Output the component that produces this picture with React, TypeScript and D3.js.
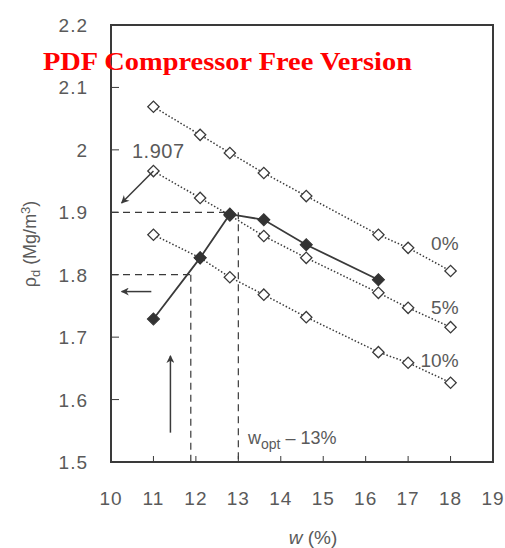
import React, { useRef, useEffect } from 'react';
import * as d3 from 'd3';

// water content (%) and dry density (Mg/m3)
const wHollow = [11, 12.1, 12.8, 13.6, 14.6, 16.3, 17, 18];
const rho0 = [2.069, 2.024, 1.995, 1.963, 1.926, 1.864, 1.843, 1.806];
const rho5 = [1.966, 1.923, 1.895, 1.862, 1.827, 1.771, 1.747, 1.716];
const rho10 = [1.864, 1.827, 1.796, 1.768, 1.732, 1.676, 1.659, 1.627];
const seriesLabels = ['0%', '5%', '10%'];

const wFilled = [11, 12.1, 12.8, 13.6, 14.6, 16.3];
const rhoFilled = [1.729, 1.827, 1.897, 1.888, 1.848, 1.792];

const xTicks = [10, 11, 12, 13, 14, 15, 16, 17, 18, 19];
const yTicks = [1.5, 1.6, 1.7, 1.8, 1.9, 2, 2.1, 2.2];

const wOpt = 13;
const rhoMax = 1.9;
const wLow = 11.88;
const rhoLow = 1.8;

const App: React.FC = () => {
  const svgRef = useRef<SVGSVGElement>(null);
  const width = 505;
  const height = 548;

  useEffect(() => {
    if (!svgRef.current) return;
    const root = d3.select(svgRef.current);
    root.selectAll('*').remove();

    const left = 111, right = 493, top = 25, bottom = 462;
    const x = d3.scaleLinear().domain([10, 19]).range([left, right]);
    const y = d3.scaleLinear().domain([1.5, 2.2]).range([bottom, top]);
    const font = '"Liberation Sans", Arial, sans-serif';
    const ink = '#3a3a3a';
    const labelInk = '#5a5a5a';

    const defs = root.append('defs');
    defs.append('marker')
      .attr('id', 'head')
      .attr('viewBox', '0 0 10 10')
      .attr('refX', 9).attr('refY', 5)
      .attr('markerWidth', 10).attr('markerHeight', 8)
      .attr('markerUnits', 'userSpaceOnUse')
      .attr('orient', 'auto')
      .append('path')
      .attr('d', 'M0,0 L10,5 L0,10 L3,5 Z')
      .attr('fill', ink);

    // frame
    root.append('rect')
      .attr('x', left).attr('y', top)
      .attr('width', right - left).attr('height', bottom - top)
      .attr('fill', 'none').attr('stroke', ink).attr('stroke-width', 2);

    // inward ticks
    root.selectAll('.xt').data(xTicks.slice(1, -1)).enter().append('line')
      .attr('x1', d => x(d)).attr('x2', d => x(d))
      .attr('y1', bottom).attr('y2', bottom - 6)
      .attr('stroke', ink).attr('stroke-width', 1);
    root.selectAll('.yt').data(yTicks.slice(1, -1)).enter().append('line')
      .attr('x1', left).attr('x2', left + 8)
      .attr('y1', d => y(d)).attr('y2', d => y(d))
      .attr('stroke', ink).attr('stroke-width', 1);

    // tick labels
    root.selectAll('.xl').data(xTicks).enter().append('text')
      .attr('x', d => x(d)).attr('y', 505)
      .attr('text-anchor', 'middle')
      .style('font-family', font).style('font-size', '19px')
      .style('letter-spacing', '1px')
      .attr('fill', labelInk)
      .text(d => String(d));
    root.selectAll('.yl').data(yTicks).enter().append('text')
      .attr('x', 88).attr('y', d => y(d) + 7)
      .attr('text-anchor', 'end')
      .style('font-family', font).style('font-size', '19px')
      .style('letter-spacing', '1px')
      .attr('fill', labelInk)
      .text(d => (d === 2 ? '2' : d.toFixed(1)));

    // axis titles
    const xt = root.append('text')
      .attr('x', 313).attr('y', 544)
      .attr('text-anchor', 'middle')
      .style('font-family', font).style('font-size', '19px')
      .attr('fill', labelInk);
    xt.append('tspan').style('font-style', 'italic').text('w');
    xt.append('tspan').text(' (%)');

    const yt = root.append('text')
      .attr('transform', 'translate(36,244) rotate(-90)')
      .attr('text-anchor', 'middle')
      .style('font-family', font).style('font-size', '18px')
      .attr('fill', labelInk);
    yt.append('tspan').text('ρ');
    yt.append('tspan').attr('dy', 4).style('font-size', '13px').text('d');
    yt.append('tspan').attr('dy', -4).text(' (Mg/m');
    yt.append('tspan').attr('dy', -6).style('font-size', '13px').text('3');
    yt.append('tspan').attr('dy', 6).text(')');

    // guide lines (dashed)
    const dash = '7,5';
    const guides: [number, number, number, number][] = [
      [10, rhoMax, 12.85, rhoMax],
      [wOpt, rhoMax, wOpt, 1.5],
      [10, rhoLow, wLow, rhoLow],
      [wLow, rhoLow, wLow, 1.5],
    ];
    root.selectAll('.guide').data(guides).enter().append('line')
      .attr('x1', d => x(d[0])).attr('y1', d => y(d[1]))
      .attr('x2', d => x(d[2])).attr('y2', d => y(d[3]))
      .attr('stroke', ink).attr('stroke-width', 1.2)
      .attr('stroke-dasharray', dash);

    // hollow series (dotted)
    const line = d3.line<[number, number]>().x(d => x(d[0])).y(d => y(d[1]));
    const hollow = [rho0, rho5, rho10];
    hollow.forEach(rho => {
      const pts = wHollow.map((w, i) => [w, rho[i]] as [number, number]);
      root.append('path')
        .attr('d', line(pts) as string)
        .attr('fill', 'none').attr('stroke', ink).attr('stroke-width', 1.5)
        .attr('stroke-dasharray', '1.5,2');
      root.selectAll(null).data(pts).enter().append('rect')
        .attr('x', -4).attr('y', -4).attr('width', 8).attr('height', 8)
        .attr('transform', d => `translate(${x(d[0])},${y(d[1])}) rotate(45)`)
        .attr('fill', '#fff').attr('stroke', ink).attr('stroke-width', 1.3);
    });

    // filled series (solid)
    const fPts = wFilled.map((w, i) => [w, rhoFilled[i]] as [number, number]);
    root.append('path')
      .attr('d', line(fPts) as string)
      .attr('fill', 'none').attr('stroke', ink).attr('stroke-width', 1.8);
    root.selectAll(null).data(fPts).enter().append('rect')
      .attr('x', -4.3).attr('y', -4.3).attr('width', 8.6).attr('height', 8.6)
      .attr('transform', d => `translate(${x(d[0])},${y(d[1])}) rotate(45)`)
      .attr('fill', '#333').attr('stroke', '#333').attr('stroke-width', 1);

    // series labels
    const labelPos: [number, number][] = [[18, 1.84], [18, 1.737], [18, 1.652]];
    seriesLabels.forEach((s, i) => {
      root.append('text')
        .attr('x', x(labelPos[i][0]) + 8).attr('y', y(labelPos[i][1]))
        .attr('text-anchor', 'end')
        .style('font-family', font).style('font-size', '19px')
        .attr('fill', labelInk)
        .text(s);
    });

    // annotations
    root.append('text')
      .attr('x', 132).attr('y', 158)
      .style('font-family', font).style('font-size', '20px')
      .style('letter-spacing', '0.5px')
      .attr('fill', labelInk)
      .text('1.907');
    const wo = root.append('text')
      .attr('x', 248).attr('y', 444)
      .style('font-family', font).style('font-size', '18px')
      .attr('fill', labelInk);
    wo.append('tspan').text('w');
    wo.append('tspan').attr('dy', 5).style('font-size', '14px').text('opt');
    wo.append('tspan').attr('dy', -5).text(' \u2013 13%');

    // arrows
    const arrows: [number, number, number, number][] = [
      [11, 1.966, 10.25, 1.915],
      [10.95, 1.773, 10.25, 1.773],
      [11.4, 1.547, 11.4, 1.67],
    ];
    root.selectAll('.arrow').data(arrows).enter().append('line')
      .attr('x1', d => x(d[0])).attr('y1', d => y(d[1]))
      .attr('x2', d => x(d[2])).attr('y2', d => y(d[3]))
      .attr('stroke', ink).attr('stroke-width', 1.5)
      .attr('marker-end', 'url(#head)');

    // watermark
    root.append('text')
      .attr('x', 43).attr('y', 70)
      .attr('textLength', 369).attr('lengthAdjust', 'spacingAndGlyphs')
      .style('font-family', '"Liberation Serif", "Times New Roman", serif')
      .style('font-size', '25px').style('font-weight', 'bold')
      .attr('fill', '#ff0000')
      .text('PDF Compressor Free Version');
  }, []);

  return (
    <svg
      ref={svgRef}
      width={width}
      height={height}
      style={{ position: 'absolute', left: 0, top: 0, background: '#fff' }}
    />
  );
};

export default App;
